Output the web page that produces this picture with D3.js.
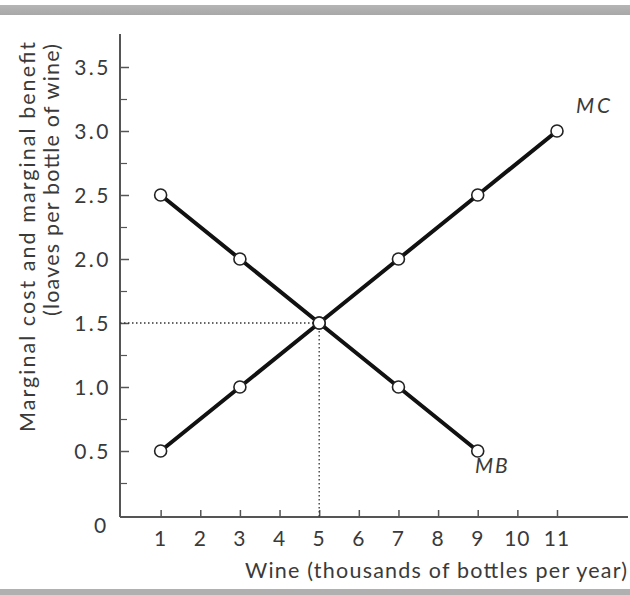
<!DOCTYPE html>
<html><head><meta charset="utf-8">
<script src="https://cdn.jsdelivr.net/npm/d3@7"></script>
<style>
html,body{margin:0;padding:0;background:#fff;}
svg{display:block;}
text{font-family:"Lato","Open Sans",sans-serif;fill:#3a3a3a;}
</style></head>
<body>
<script>
const mcQuantities = [1, 3, 5, 7, 9, 11];
const mcValues = [0.5, 1.0, 1.5, 2.0, 2.5, 3.0];
const mbQuantities = [1, 3, 5, 7, 9];
const mbValues = [2.5, 2.0, 1.5, 1.0, 0.5];
const xTickValues = [1, 2, 3, 4, 5, 6, 7, 8, 9, 10, 11];
const yTickValues = [0.5, 1.0, 1.5, 2.0, 2.5, 3.0, 3.5];
const yMinorValues = [0.25, 0.75, 1.25, 1.75, 2.25, 2.75, 3.25];
const equilibrium = {q: 5, p: 1.5};
const xTitle = "Wine (thousands of bottles per year)";
const yTitle1 = "Marginal cost and marginal benefit";
const yTitle2 = "(loaves per bottle of wine)";

const W = 630, H = 595;
const svg = d3.select("body").append("svg").attr("width", W).attr("height", H);

// frame bars
const defs = svg.append("defs");
const g1 = defs.append("linearGradient").attr("id","bar").attr("x1",0).attr("y1",0).attr("x2",0).attr("y2",1);
g1.append("stop").attr("offset","0").attr("stop-color","#b5b5b5");
g1.append("stop").attr("offset","1").attr("stop-color","#a8a8a8");
svg.append("rect").attr("x",0).attr("y",5).attr("width",W).attr("height",10).attr("fill","url(#bar)");
svg.append("rect").attr("x",0).attr("y",589).attr("width",W).attr("height",6).attr("fill","#b0b0b0");

const x = d3.scaleLinear().domain([0, 11]).range([121, 557]);
const y = d3.scaleLinear().domain([0, 3.5]).range([515, 67]);
const axisX0 = 120, axisY0 = 517;

const axisColor = "#555";

// y axis
const yAxis = d3.axisRight(y).tickValues(yTickValues).tickSize(9).tickFormat("");
const yg = svg.append("g").attr("transform", `translate(${axisX0},0)`).call(yAxis);
yg.select(".domain").remove();
yg.selectAll(".tick line").attr("stroke", axisColor).attr("stroke-width", 1.5);
const yMinor = d3.axisRight(y).tickValues(yMinorValues).tickSize(7).tickFormat("");
const ymg = svg.append("g").attr("transform", `translate(${axisX0},0)`).call(yMinor);
ymg.select(".domain").remove();
ymg.selectAll(".tick line").attr("stroke", axisColor).attr("stroke-width", 1.2);

// y tick labels
svg.append("g").selectAll("text").data(yTickValues).join("text")
  .attr("x", 111).attr("y", d => y(d)).attr("dy", "0.36em")
  .attr("text-anchor", "end").attr("font-size", 21).attr("letter-spacing", 2.5)
  .text(d => d3.format(".1f")(d));

// x axis
const xAxis = d3.axisTop(x).tickValues(xTickValues).tickSize(7).tickFormat("");
const xg = svg.append("g").attr("transform", `translate(0,${axisY0})`).call(xAxis);
xg.select(".domain").remove();
xg.selectAll(".tick line").attr("stroke", axisColor).attr("stroke-width", 1.5);
svg.append("g").selectAll("text").data(xTickValues).join("text")
  .attr("x", d => x(d)).attr("y", 546)
  .attr("text-anchor", "middle").attr("font-size", 21).attr("letter-spacing", 1)
  .text(d => d);
svg.append("text").attr("x", 100).attr("y", 533).attr("text-anchor","middle").attr("font-size",21).text("0");

// axis lines
svg.append("line").attr("x1", axisX0).attr("x2", axisX0).attr("y1", 34).attr("y2", axisY0)
  .attr("stroke", axisColor).attr("stroke-width", 2);
svg.append("line").attr("x1", axisX0).attr("x2", 628).attr("y1", axisY0).attr("y2", axisY0)
  .attr("stroke", axisColor).attr("stroke-width", 2);

// titles
svg.append("text").attr("x", 627).attr("y", 578).attr("text-anchor","end").attr("font-size",21.5)
  .attr("textLength", 382).attr("lengthAdjust","spacing").text(xTitle);
svg.append("text").attr("transform","translate(35,42) rotate(-90)").attr("text-anchor","end").attr("font-size",21.5)
  .attr("textLength", 390).attr("lengthAdjust","spacing").text(yTitle1);
svg.append("text").attr("transform","translate(59,44) rotate(-90)").attr("text-anchor","end").attr("font-size",21.5)
  .attr("textLength", 272).attr("lengthAdjust","spacing").text(yTitle2);

// dotted guides
svg.append("line").attr("x1", axisX0).attr("x2", x(equilibrium.q)).attr("y1", y(equilibrium.p)).attr("y2", y(equilibrium.p))
  .attr("stroke","#333").attr("stroke-width",1.3).attr("stroke-dasharray","1.5,2.5");
svg.append("line").attr("x1", x(equilibrium.q)).attr("x2", x(equilibrium.q)).attr("y1", y(equilibrium.p)).attr("y2", axisY0)
  .attr("stroke","#333").attr("stroke-width",1.3).attr("stroke-dasharray","1.5,2.5");

const line = d3.line().x(d => x(d[0])).y(d => y(d[1]));
const mcData = mcQuantities.map((q,i) => [q, mcValues[i]]);
const mbData = mbQuantities.map((q,i) => [q, mbValues[i]]);

svg.append("path").attr("d", line(mcData)).attr("fill","none").attr("stroke","#111").attr("stroke-width",4);
svg.append("path").attr("d", line(mbData)).attr("fill","none").attr("stroke","#111").attr("stroke-width",4);

svg.append("g").selectAll("circle").data(mcData.concat(mbData)).join("circle")
  .attr("cx", d => x(d[0])).attr("cy", d => y(d[1])).attr("r", 6)
  .attr("fill","#fff").attr("stroke","#222").attr("stroke-width",1.6);

// curve labels
svg.append("text").attr("x", 576).attr("y", 113).attr("font-size",21).attr("font-style","italic").attr("letter-spacing",3).text("MC");
svg.append("text").attr("x", 475).attr("y", 473).attr("font-size",21).attr("font-style","italic").attr("letter-spacing",2).text("MB");
</script>
</body></html>
